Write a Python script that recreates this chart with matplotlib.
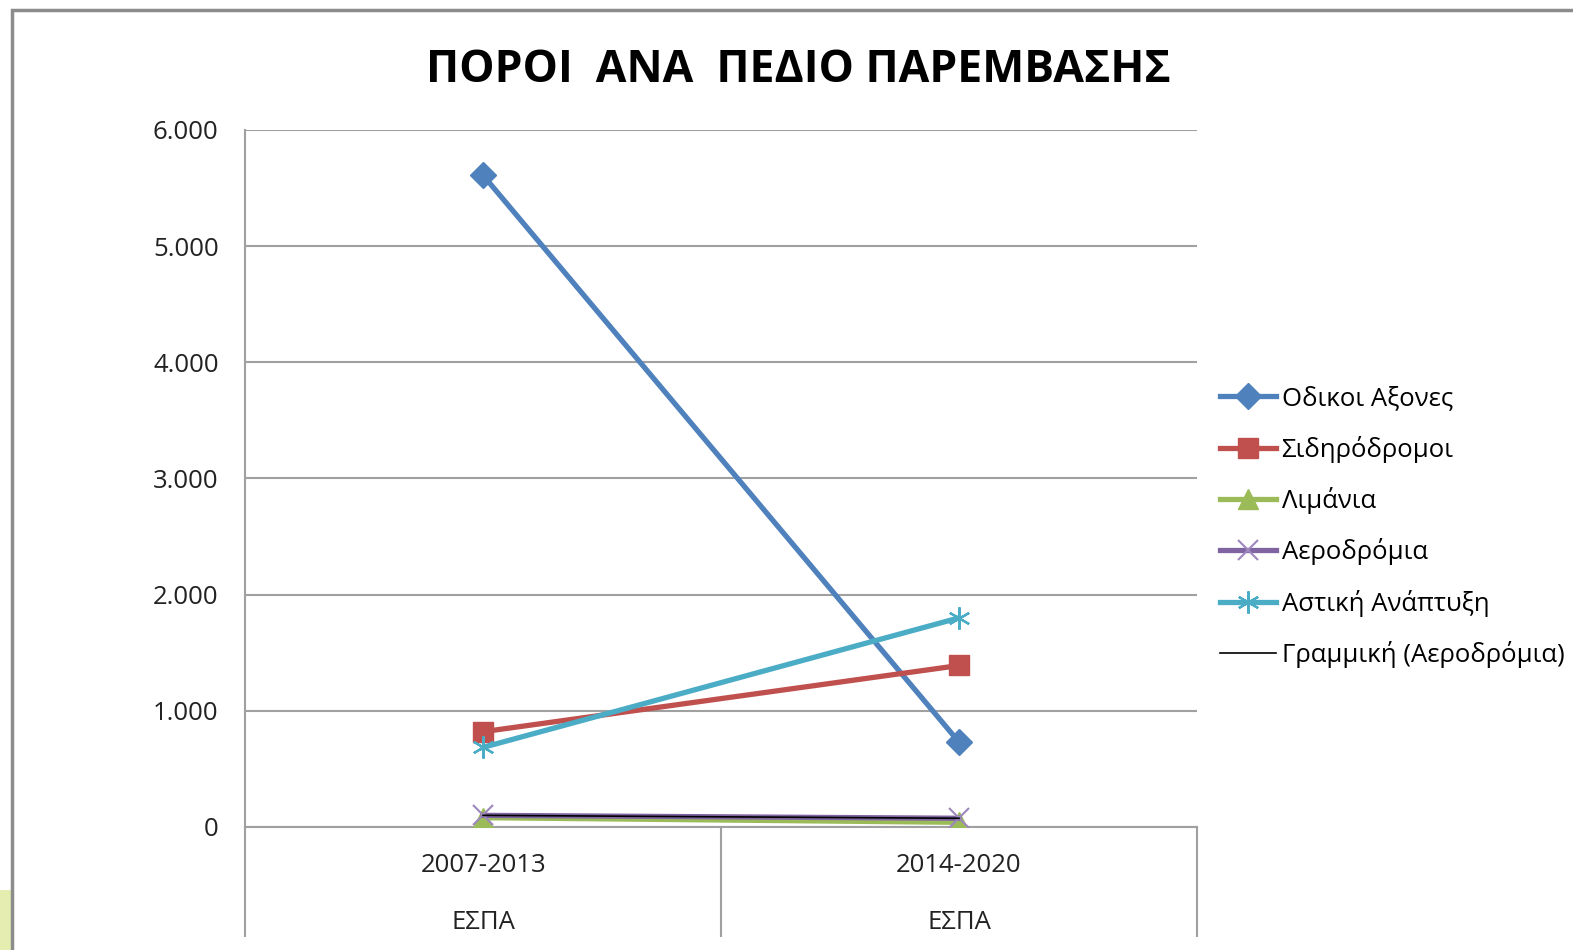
import matplotlib
matplotlib.use('Agg')
import matplotlib.pyplot as plt
from matplotlib.patches import Rectangle
from matplotlib.ticker import FuncFormatter, FixedLocator

'''Data'''

periods = ['2007-2013', '2014-2020']
programme = ['ΕΣΠΑ', 'ΕΣΠΑ']

odikoi = [5610, 730]
sidirodromoi = [820, 1390]
limania = [80, 40]
aerodromia = [100, 75]
astiki = [685, 1800]

series_names = ['Οδικοι Αξονες', 'Σιδηρόδρομοι', 'Λιμάνια', 'Αεροδρόμια', 'Αστική Ανάπτυξη']
trend_name = 'Γραμμική (Αεροδρόμια)'
title = 'ΠΟΡΟΙ  ΑΝΑ  ΠΕΔΙΟ ΠΑΡΕΜΒΑΣΗΣ'

plt.rcParams['font.family'] = ['Open Sans', 'DejaVu Sans']

fig = plt.figure(figsize=(15.73, 9.5), dpi=100)
ax = fig.add_axes([0.1558, 0.1295, 0.6052, 0.7337])

    # chart frame and the bit of yellow slide background bottom left
fig.patches.append(Rectangle((-0.01, -0.01), 0.0076 + 0.01, 0.073, transform=fig.transFigure,
                             facecolor='#e6edb0', edgecolor='none', zorder=0))
fig.patches.append(Rectangle((0.0076, -0.05), 1.1, 1.0395, transform=fig.transFigure,
                             facecolor='none', edgecolor='#8c8c8c', lw=2.5, zorder=1))

x = list(range(len(periods)))
fs = 18.5

'''Series'''
ax.plot(x, odikoi, color='#4F81BD', lw=3.8, marker='D', ms=13, mec='#4F81BD', label=series_names[0], zorder=3)
ax.plot(x, sidirodromoi, color='#C0504D', lw=3.8, marker='s', ms=15, mec='#C0504D', label=series_names[1], zorder=3)
ax.plot(x, limania, color='#9BBB59', lw=3.8, marker='^', ms=15, mec='#9BBB59', label=series_names[2], zorder=3)
ax.plot(x, aerodromia, color='#8064A2', lw=3.8, marker='x', ms=15, mew=1.5, mec='#9d87bd', label=series_names[3], zorder=3)
ax.plot(x, astiki, color='#4BACC6', lw=3.8, marker=(6, 2, 0), ms=16, mew=1.6, mec='#4BACC6', label=series_names[4], zorder=3)
ax.plot(x, aerodromia, color='black', lw=1.2, label=trend_name, zorder=4)

'''Axes'''
ax.set_xlim(-0.5, len(periods) - 0.5)
ax.set_ylim(0, 6000)
ax.set_yticks(range(0, 6001, 1000))
ax.yaxis.set_major_formatter(FuncFormatter(lambda v, p: '0' if v == 0 else f'{int(v):,}'.replace(',', '.')))
ax.grid(axis='y', color='#a0a0a0', lw=1.5)
ax.set_axisbelow(True)
ax.tick_params(axis='y', length=0, pad=19, labelsize=fs, labelcolor='#222222')

ax.set_xticks(x)
ax.set_xticklabels(periods)
ax.tick_params(axis='x', which='major', length=0, pad=19, labelsize=fs, labelcolor='#222222')
    # category separators hanging below the axis
ax.xaxis.set_minor_locator(FixedLocator([i - 0.5 for i in range(len(periods) + 1)]))
ax.tick_params(axis='x', which='minor', length=79, width=1.5, color='#a0a0a0', direction='out')

for i, p in enumerate(programme):
    ax.text(i, -0.137, p, transform=ax.get_xaxis_transform(), ha='center', va='center',
            fontsize=fs, color='#222222')

for s in ['top', 'right']:
    ax.spines[s].set_visible(False)
ax.spines['left'].set_color('#a0a0a0')
ax.spines['left'].set_linewidth(1.5)
ax.spines['bottom'].set_color('#a0a0a0')
ax.spines['bottom'].set_linewidth(1.5)

fig.text(0.5075, 0.926, title, ha='center', va='center', fontsize=32, fontweight='bold')

fig.legend(loc='center left', bbox_to_anchor=(0.7755, 0.445), frameon=False, fontsize=fs,
           handlelength=2.2, handletextpad=0.2, labelspacing=0.95, borderpad=0, borderaxespad=0)

plt.savefig('out.png', dpi=100)
